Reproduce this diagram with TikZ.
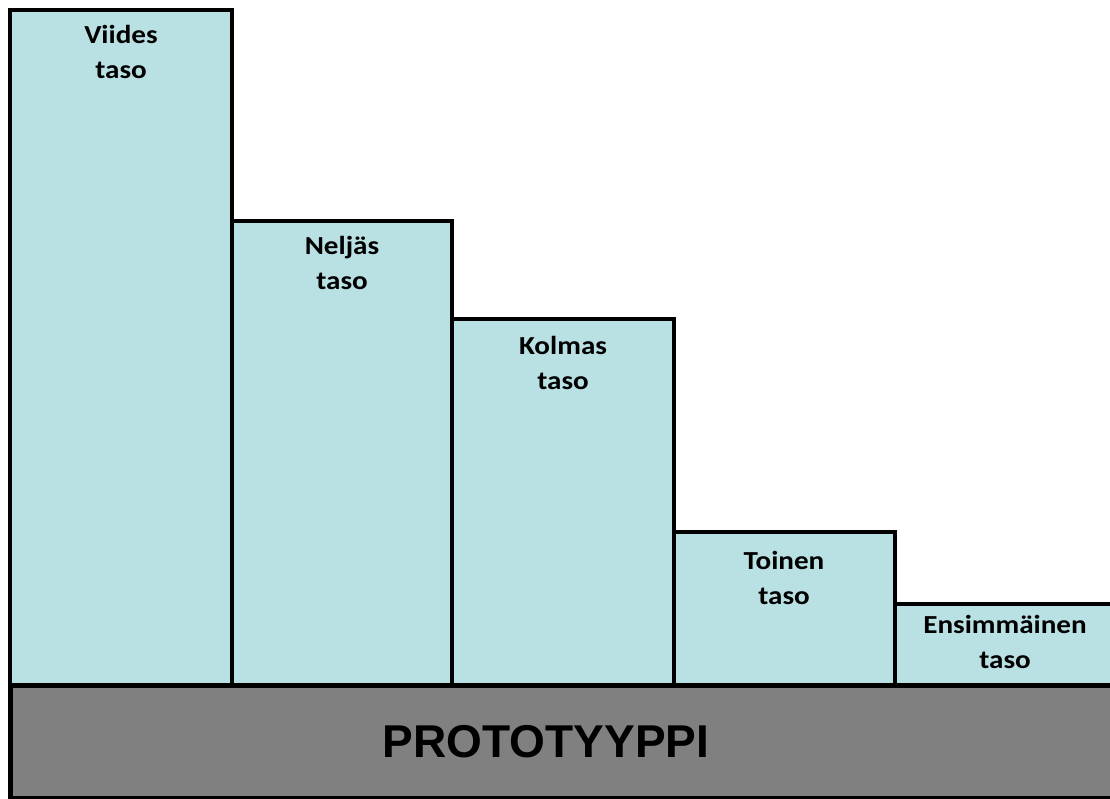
\documentclass[tikz,border=0pt]{standalone}
\usepackage{fontspec}
\newfontfamily\labelfont[FakeStretch=1.12]{Carlito}
\newfontfamily\basefont{Liberation Sans}
\definecolor{levelblue}{RGB}{185,224,227}
\definecolor{basegrey}{RGB}{128,128,128}
\begin{document}
\begin{tikzpicture}[x=1pt,y=-1pt,
  level/.style={draw=black, line width=4pt, fill=levelblue, anchor=north west,
    inner sep=0pt, outer sep=0pt},
  % anchored at the baseline of the last line ("taso")
  levellabel/.style={anchor=base, inner sep=0pt, align=center,
    font=\labelfont\bfseries\fontsize{26}{35}\selectfont}]
\useasboundingbox (0,0) rectangle (1110,799);
\clip (0,0) rectangle (1110,799);
% level columns, tallest on the left
\node[level, minimum width=222pt, minimum height=690pt] (l5) at (10,10) {};
\node[level, minimum width=220pt, minimum height=480pt] (l4) at (232,221) {};
\node[level, minimum width=222pt, minimum height=380pt] (l3) at (452,319) {};
\node[level, minimum width=221pt, minimum height=170pt] (l2) at (674,532) {};
\node[level, minimum width=230pt, minimum height=100pt] (l1) at (895,604) {};
% column labels
\node[levellabel] (t5) at (121,79) {Viides\\taso};
\node[levellabel] (t4) at (342,290) {Neljäs\\taso};
\node[levellabel] (t3) at (563,389) {Kolmas\\taso};
\node[levellabel] (t2) at (784,604) {Toinen\\taso};
\node[levellabel] (t1) at (1005,668) {Ensimmäinen\\taso};
% prototype base
\fill[basegrey] (10,685) rectangle (1120,798);
\draw[line width=2.5pt] (8,797.5) -- (1120,797.5);
\draw[line width=5pt] (1120,685) -- (10,685) -- (10,800);
\node[font=\basefont\bfseries\fontsize{46}{50}\selectfont, inner sep=0pt, anchor=base]
  (proto) at (546,757) {PROTOTYYPPI};
\end{tikzpicture}
\end{document}
